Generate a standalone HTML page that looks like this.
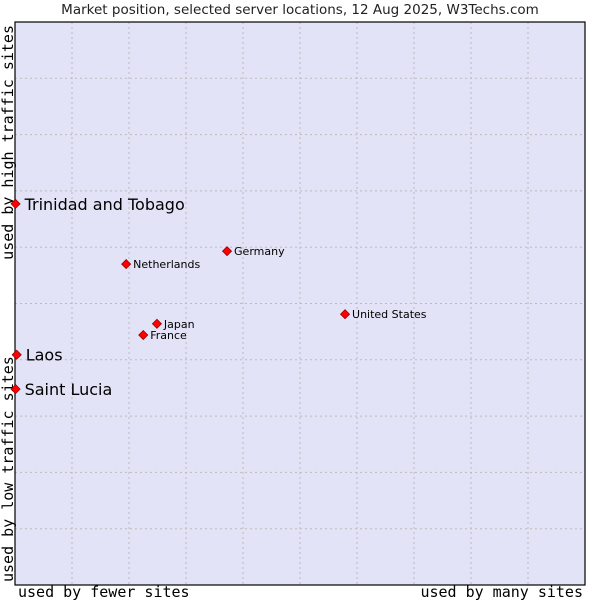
<!DOCTYPE html>
<html><head><meta charset="utf-8"><style>
body{margin:0;background:#fff;}
svg{display:block;font-family:"DejaVu Sans","Liberation Sans",sans-serif;}
</style></head><body>
<svg width="600" height="600">
<text x="300" y="14" text-anchor="middle" font-size="13.5" fill="#222">Market position, selected server locations, 12 Aug 2025, W3Techs.com</text>
<rect x="15" y="22" width="570" height="563" fill="#e3e3f7" stroke="#000" stroke-width="1"/>
<g id="grid"></g>
<rect x="15" y="22" width="570" height="563" fill="none" stroke="#000" stroke-width="1.2"/>
<text x="18" y="597" font-family="DejaVu Sans Mono,Liberation Mono,monospace" font-size="15">used by fewer sites</text>
<text x="583" y="597" text-anchor="end" font-family="DejaVu Sans Mono,Liberation Mono,monospace" font-size="15">used by many sites</text>
<text transform="translate(13,582) rotate(-90)" font-family="DejaVu Sans Mono,Liberation Mono,monospace" font-size="15">used by low traffic sites</text>
<text transform="translate(13,25) rotate(-90)" text-anchor="end" font-family="DejaVu Sans Mono,Liberation Mono,monospace" font-size="15">used by high traffic sites</text>
<g id="points"></g>
</svg>
<script>
const names=["Trinidad and Tobago","Laos","Saint Lucia","Netherlands","Germany","United States","Japan","France"];
const xVals=[0.1,0.3,0.1,19.5,37.2,57.9,24.9,22.5];
const yVals=[67.7,40.9,34.8,57.0,59.3,48.1,46.4,44.4];
const bigLabel=[true,true,true,false,false,false,false,false];
const X0=15,W=570,Y0=585,H=563,NS="http://www.w3.org/2000/svg";
const xs=v=>X0+v/100*W, ys=v=>Y0-v/100*H;
const grid=document.getElementById('grid');
for(let i=1;i<10;i++){
 const v=document.createElementNS(NS,'line');
 v.setAttribute('x1',xs(i*10));v.setAttribute('x2',xs(i*10));v.setAttribute('y1',22);v.setAttribute('y2',585);
 v.setAttribute('stroke','#bbb');v.setAttribute('stroke-dasharray','2,3');
 
 
 grid.appendChild(v);
 const h=document.createElementNS(NS,'line');
 h.setAttribute('y1',ys(i*10));h.setAttribute('y2',ys(i*10));h.setAttribute('x1',15);h.setAttribute('x2',585);
 h.setAttribute('stroke','#bbb');h.setAttribute('stroke-dasharray','2,3');
 
 
 grid.appendChild(h);
}
const pts=document.getElementById('points');
names.forEach((n,i)=>{
 const x=xs(xVals[i]),y=ys(yVals[i]);
 const p=document.createElementNS(NS,'path');
 p.setAttribute('d',`M${x} ${y-4.5}L${x+4.5} ${y}L${x} ${y+4.5}L${x-4.5} ${y}Z`);
 p.setAttribute('fill','#f00');p.setAttribute('stroke','#900');p.setAttribute('stroke-width','0.8');
 
 
 pts.appendChild(p);
 const t=document.createElementNS(NS,'text');
 t.setAttribute('x',x+(bigLabel[i]?9:7));t.setAttribute('y',y+(bigLabel[i]?6:4));
 t.setAttribute('font-size',bigLabel[i]?16:11);
 t.textContent=n;
 
 
 pts.appendChild(t);
});
</script>
</body></html>
